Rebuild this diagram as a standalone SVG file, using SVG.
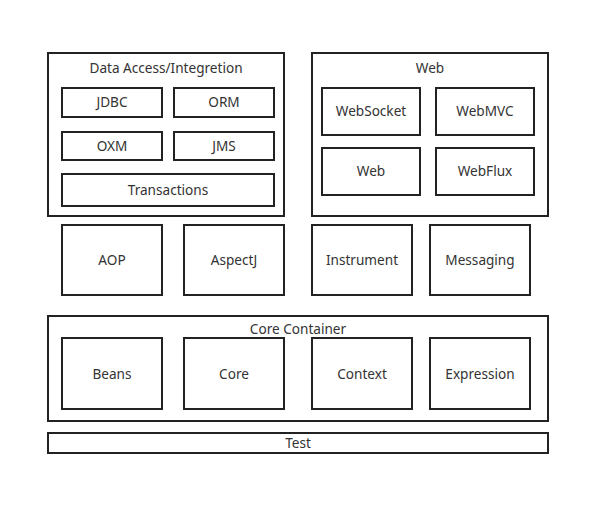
<svg xmlns="http://www.w3.org/2000/svg" width="610" height="516" viewBox="0 0 610 516">
<style>
rect{fill:#fff;stroke:#222;stroke-width:2}
text{font-family:"Noto Sans","Open Sans",sans-serif;font-size:13.6px;fill:#333;text-anchor:middle;dominant-baseline:central}
</style>
<rect x="0" y="0" width="610" height="516" style="stroke:none"/>
<g id="data-access"><rect x="48" y="53" width="236" height="163"/><text x="166" y="67">Data Access/Integretion</text></g>
<g id="jdbc"><rect x="62" y="88" width="100" height="29"/><text x="112" y="101.5">JDBC</text></g>
<g id="orm"><rect x="174" y="88" width="100" height="29"/><text x="224" y="101.5">ORM</text></g>
<g id="oxm"><rect x="62" y="132" width="100" height="28"/><text x="112" y="145">OXM</text></g>
<g id="jms"><rect x="174" y="132" width="100" height="28"/><text x="224" y="145">JMS</text></g>
<g id="transactions"><rect x="62" y="174" width="212" height="32"/><text x="168" y="189">Transactions</text></g>
<g id="web-group"><rect x="312" y="53" width="236" height="163"/><text x="430" y="67">Web</text></g>
<g id="websocket"><rect x="322" y="88" width="98" height="47"/><text x="371" y="110.5">WebSocket</text></g>
<g id="webmvc"><rect x="436" y="88" width="98" height="47"/><text x="485" y="110.5">WebMVC</text></g>
<g id="web"><rect x="322" y="148" width="98" height="47"/><text x="371" y="170.5">Web</text></g>
<g id="webflux"><rect x="436" y="148" width="98" height="47"/><text x="485" y="170.5">WebFlux</text></g>
<g id="aop"><rect x="62" y="225" width="100" height="70"/><text x="112" y="259">AOP</text></g>
<g id="aspectj"><rect x="184" y="225" width="100" height="70"/><text x="234" y="259">AspectJ</text></g>
<g id="instrument"><rect x="312" y="225" width="100" height="70"/><text x="362" y="259">Instrument</text></g>
<g id="messaging"><rect x="430" y="225" width="100" height="70"/><text x="480" y="259">Messaging</text></g>
<g id="core-container"><rect x="48" y="316" width="500" height="105"/><text x="298" y="328">Core Container</text></g>
<g id="beans"><rect x="62" y="338" width="100" height="71"/><text x="112" y="373">Beans</text></g>
<g id="core"><rect x="184" y="338" width="100" height="71"/><text x="234" y="373">Core</text></g>
<g id="context"><rect x="312" y="338" width="100" height="71"/><text x="362" y="373">Context</text></g>
<g id="expression"><rect x="430" y="338" width="100" height="71"/><text x="480" y="373">Expression</text></g>
<g id="test"><rect x="48" y="433" width="500" height="20"/><text x="298" y="442.5">Test</text></g>
<g id="connectors"></g>
</svg>
